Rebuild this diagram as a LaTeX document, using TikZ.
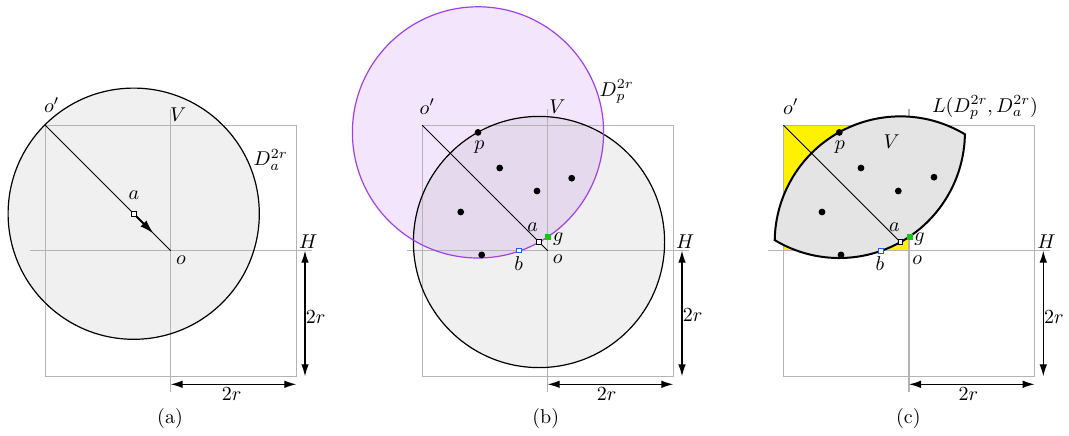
\documentclass[tikz,border=0pt]{standalone}
\usetikzlibrary{arrows.meta}
\definecolor{grayln}{RGB}{180,180,180}
\definecolor{diskfill}{RGB}{240,240,240}
\definecolor{lensfill}{RGB}{228,228,228}
\definecolor{purp}{RGB}{160,64,232}
\definecolor{ptgreen}{RGB}{20,200,20}
\definecolor{ptblue}{RGB}{40,90,255}
\newcommand\gridlines{%
  \draw[grid] (-125.6,-125.6) rectangle (125.6,125.6);
  \coordinate (Hl) at (-141,0); \coordinate (Hr) at (141,0);
  \coordinate (Vt) at (0,141.7); \coordinate (Vb) at (0,-141);
  \draw[grid] (Hl) -- (Hr);
  \draw[grid] (Vt) -- (Vb);
}
\newcommand\dimarrows[4]{%
  \coordinate (v1) at (134.3,0); \coordinate (v2) at (134.3,-125.6);
  \coordinate (h1) at (0,-133.6); \coordinate (h2) at (125.6,-133.6);
  \draw[dimline] (v1) -- (v2);
  \draw[dimline] (h1) -- (h2);
  \node[lbl] (vlab) at (145,#1) {$2r$};
  \node[lbl] (hlab) at (#2,-143.8) {$2r$};
  \node[lbl] (Hlab) at (137.5,9) {$H$};
  \node[lbl] (cap) at (#3,-168) {(#4)};
}
\begin{document}
\begin{tikzpicture}[x=0.5pt,y=0.5pt,
  grid/.style={draw=grayln,line width=0.6pt},
  diag/.style={draw=black,line width=0.45pt},
  rim/.style={draw=black,line width=0.6pt},
  dimline/.style={line width=0.6pt,<->,>={Latex[length=6pt,width=3.8pt]}},
  move/.style={line width=0.9pt,-{Latex[length=7pt,width=4.2pt]}},
  lbl/.style={inner sep=0pt},
  dot/.style={circle,fill=black,inner sep=0pt,minimum size=3.4pt},
  sq/.style={rectangle,draw=black,fill=white,line width=0.4pt,inner sep=0pt,minimum size=2.4pt},
  bsq/.style={rectangle,draw=ptblue,fill=white,line width=0.4pt,inner sep=0pt,minimum size=2.4pt},
  gsq/.style={rectangle,draw=ptgreen,fill=ptgreen,line width=0.4pt,inner sep=0pt,minimum size=2.4pt},
  lens/.style={fill=lensfill,draw=black,line width=1pt}]
\useasboundingbox (0,0) rectangle (1069,435);

% ---------------- (a)
\begin{scope}[shift={(170.7,184.3)},name prefix=a-]
  \coordinate (a) at (-37,37);
  \coordinate (o) at (0,0);
  \coordinate (op) at (-125.6,125.6);
  \coordinate (tip) at (-17.2,17.2);
  \fill[diskfill] (a) circle[radius=125.6];
  \gridlines
  \draw[rim] (a) circle[radius=125.6];
  \draw[diag] (op) -- (o);
  \draw[move] (a) -- (tip);
  \node[sq] (am) at (a) {};
  \node[lbl] (oplab) at (-119,145.7) {$o'$};
  \node[lbl] (Vlab) at (7.6,135.7) {$V$};
  \node[lbl] (Dlab) at (100,90.7) {$D_a^{2r}$};
  \node[lbl] (alab) at (-36.7,55.7) {$a$};
  \node[lbl] (olab) at (10.3,-9.3) {$o$};
  \dimarrows{-66}{61}{-0.7}{a}
\end{scope}

% ---------------- (b)
\begin{scope}[shift={(547.7,184.3)},name prefix=b-]
  \coordinate (a) at (-8.7,8.7);
  \coordinate (p) at (-69.7,118.3);
  \coordinate (o) at (0,0);
  \coordinate (op) at (-125.6,125.6);
  \fill[diskfill] (a) circle[radius=125.6];
  \fill[purp,fill opacity=0.13] (p) circle[radius=125.6];
  \gridlines
  \draw[rim] (a) circle[radius=125.6];
  \draw[purp,line width=0.6pt] (p) circle[radius=125.6];
  \draw[diag] (op) -- (o);
  \node[dot] (pp) at (p) {};
  \node[dot] (q1) at (-48,82.7) {};
  \node[dot] (q2) at (-10.7,59.7) {};
  \node[dot] (q3) at (24,72.5) {};
  \node[dot] (q4) at (-87,38.7) {};
  \node[dot] (q5) at (-66,-4.2) {};
  \node[bsq] (bm) at (-28.7,0.3) {};
  \node[gsq] (gm) at (0.3,14) {};
  \node[sq] (am) at (a) {};
  \node[lbl] (oplab) at (-120.4,144) {$o'$};
  \node[lbl] (Vlab) at (9.6,144) {$V$};
  \node[lbl] (Dlab) at (69,159) {$D_p^{2r}$};
  \node[lbl] (plab) at (-68.4,104) {$p$};
  \node[lbl] (alab) at (-15,24) {$a$};
  \node[lbl] (glab) at (10.5,11.4) {$g$};
  \node[lbl] (blab) at (-29,-12.6) {$b$};
  \node[lbl] (olab) at (10,-8.6) {$o$};
  \dimarrows{-64.3}{59}{-2}{b}
\end{scope}

% ---------------- (c)
\begin{scope}[shift={(909,184.3)},name prefix=c-]
  \coordinate (a) at (-8.7,8.7);
  \coordinate (p) at (-69.7,118.3);
  \coordinate (o) at (0,0);
  \coordinate (op) at (-125.6,125.6);
  \coordinate (L2) at (55.89,116.42);
  \fill[yellow] (-125.6,0) rectangle (0,125.6);
  \gridlines
  \draw[lens] (L2) arc[start angle=59.05,end angle=179.14,radius=125.6]
              arc[start angle=-120.95,end angle=-0.86,radius=125.6] -- cycle;
  \draw[diag] (op) -- (a);
  \node[dot] (pp) at (p) {};
  \node[dot] (q1) at (-48,82.7) {};
  \node[dot] (q2) at (-10.7,59.7) {};
  \node[dot] (q3) at (25,73.5) {};
  \node[dot] (q4) at (-87,38.7) {};
  \node[dot] (q5) at (-68,-4.2) {};
  \node[bsq] (bm) at (-28.5,0.2) {};
  \node[gsq] (gm) at (0.5,14) {};
  \node[sq] (am) at (a) {};
  \node[lbl] (oplab) at (-118.3,144) {$o'$};
  \node[lbl] (Llab) at (76,143) {$L(D_p^{2r},D_a^{2r})$};
  \node[lbl] (plab) at (-69,104) {$p$};
  \node[lbl] (Vlab) at (-17.3,109) {$V$};
  \node[lbl] (alab) at (-14.7,24) {$a$};
  \node[lbl] (glab) at (10.5,11.4) {$g$};
  \node[lbl] (blab) at (-29,-12.6) {$b$};
  \node[lbl] (olab) at (8.3,-9.3) {$o$};
  \dimarrows{-66}{59.3}{-0.7}{c}
\end{scope}
\end{tikzpicture}
\end{document}
